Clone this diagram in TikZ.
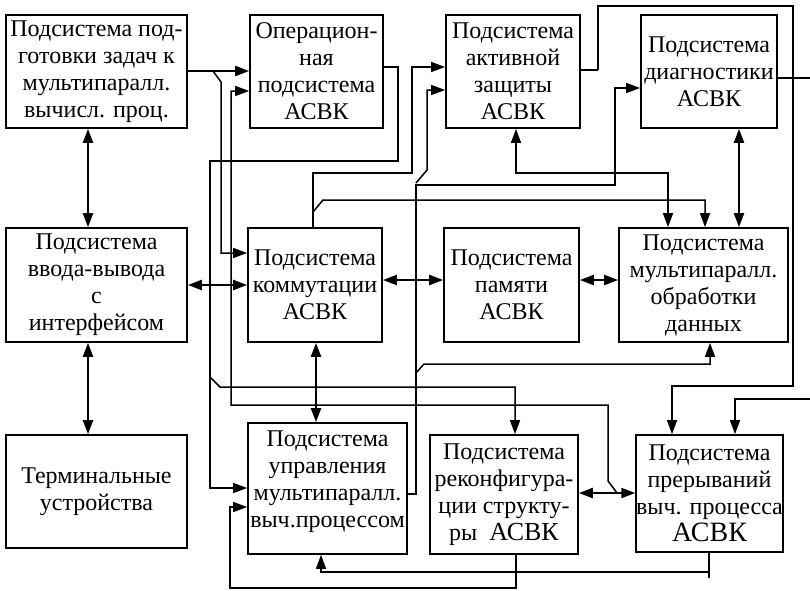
\documentclass[tikz,border=0pt]{standalone}
\usepackage{fontspec}
\setmainfont{Liberation Serif}
\usetikzlibrary{arrows.meta}
\begin{document}
\begin{tikzpicture}[x=1pt,y=-1pt,
  box/.style={draw,line width=1.7pt,inner sep=0pt,align=center,font=\fontsize{24}{27}\selectfont},
  lbl/.style={inner sep=0pt,align=center,font=\fontsize{24}{27}\selectfont},
  wire/.style={line width=1.5pt},
  thick wire/.style={line width=2.2pt},
  tip/.tip={Triangle[length=14pt,width=10pt]},
  arr/.style={wire,-tip},
  darr/.style={line width=2.2pt,tip-tip},
]
\useasboundingbox (0,0) rectangle (810,590);
% boxes
\node[box,minimum width=181,minimum height=113] (b1) at (96.5,71.5) {Подсистема под-\\готовки задач к\\мультипаралл.\\вычисл. проц.};
\node[box,minimum width=133,minimum height=113] (b2) at (316.5,71.5) {Операцион-\\ная\\подсистема\\АСВК};
\node[box,minimum width=134,minimum height=113] (b3) at (513,71.5) {Подсистема\\активной\\защиты\\АСВК};
\node[box,minimum width=136,minimum height=113] (b4) at (709,71.5) {Подсистема\\диагностики\\АСВК};
\node[box,minimum width=181,minimum height=114] (b5) at (96.5,285) {Подсистема\\ввода-вывода\\с\\интерфейсом};
\node[box,minimum width=134,minimum height=114] (b6) at (315,285) {Подсистема\\коммутации\\АСВК};
\node[box,minimum width=135,minimum height=114] (b7) at (511.5,285) {Подсистема\\памяти\\АСВК};
\node[box,minimum width=169,minimum height=114] (b8) at (703.5,285) {Подсистема\\мультипаралл.\\обработки\\данных};
\node[box,minimum width=181,minimum height=113] (b9) at (96.5,491.5) {Терминальные\\устройства};
\node[box,minimum width=159,minimum height=131] (b10) at (327.5,488.5) {};
\node[lbl] (b10t) at (327.5,482) {Подсистема\\управления\\мультипаралл.\\выч.процессом};
\node[box,minimum width=148,minimum height=119] (b11) at (504,494.5) {Подсистема\\реконфигура-\\ции структу-\\ры\ \ {\fontsize{26}{27}\selectfont АСВК}};
\node[box,minimum width=141,minimum height=117] (b12) at (709.5,493.5) {Подсистема\\прерываний\\выч. процесса\\{\fontsize{28}{30}\selectfont АСВК}};
% double arrows
\draw[darr] (b1.south -| 88,0) -- (b5.north -| 88,0);
\draw[darr] (b5.south -| 88,0) -- (b9.north -| 88,0);
\draw[darr] (b5.east |- 0,285) -- (b6.west |- 0,285);
\draw[darr] (b6.east |- 0,280) -- (b7.west |- 0,280);
\draw[darr] (b7.east |- 0,280) -- (b8.west |- 0,280);
\draw[darr] (b6.south -| 316,0) -- (b10.north -| 316,0);
\draw[darr] (b4.south -| 739,0) -- (b8.north -| 739,0);
\draw[darr] (b11.east |- 0,493) -- (b12.west |- 0,493);
% wires
\draw[thick wire,-tip] (b1.east |- 0,71) -- (b2.west |- 0,71);
\draw[arr] (213,71) -- (221,82) -- (221,253) -- (b6.west |- 0,253);
\draw[arr] (617,493) -- (608,481) -- (608,405) -- (231,405) -- (231,91) -- (b2.west |- 0,91);
\draw[arr] (b2.east |- 0,67) -- (398,67) -- (398,161) -- (210,161) -- (210,488) -- (b10.west |- 0,488);
\draw[arr] (210,377) -- (220,387) -- (515,387) -- (b11.north -| 515,0);
\draw[arr] (b11.south -| 516,0) -- (516,588) -- (230,588) -- (230,507) -- (b10.west |- 0,507);
\draw[wire] (b12.south -| 709,0) -- (709,578);
\draw[arr] (709,572) -- (321,572) -- (b10.south -| 321,0);
\draw[arr] (b10.east |- 0,494) -- (416,494) -- (416,185) -- (615,185) -- (615,88) -- (b4.west |- 0,88);
\draw[arr] (416,183) -- (427,170) -- (427,90) -- (b3.west |- 0,90);
\draw[arr] (416,373) -- (424,364) -- (710,364) -- (b8.south -| 710,0);
\draw[arr] (b6.north -| 313,0) -- (313,173) -- (412,173) -- (412,67) -- (b3.west |- 0,67);
\draw[arr] (313,212) -- (323,200) -- (705,200) -- (b8.north -| 705,0);
\draw[wire,tip-tip] (b3.south -| 516,0) -- (516,173) -- (668,173) -- (b8.north -| 668,0);
\draw[thick wire] (b3.east |- 0,70) -- (598,70);
\draw[arr] (598,70) -- (598,6) -- (793,6) -- (793,386) -- (672,386) -- (b12.north -| 672,0);
\draw[line width=2.6pt] (b4.east |- 0,78) -- (810,78);
\draw[arr] (810,399) -- (735,399) -- (b12.north -| 735,0);
\end{tikzpicture}
\end{document}
